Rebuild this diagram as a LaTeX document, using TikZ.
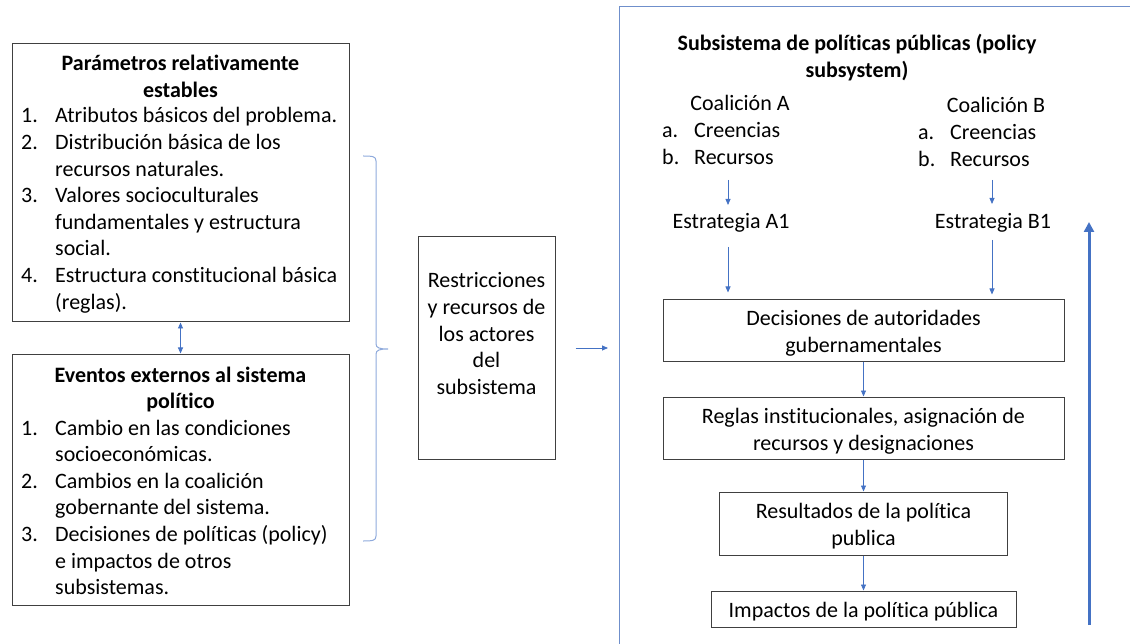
\documentclass[tikz,border=0pt]{standalone}
\usepackage{fontspec}
\setmainfont{Carlito}[Ligatures=NoCommon]
\usetikzlibrary{arrows.meta}
\definecolor{arrblue}{HTML}{4472C4}
\definecolor{braceblue}{HTML}{8FAADC}
\definecolor{framebl}{HTML}{6F8FCB}
\definecolor{boxgray}{HTML}{404040}
\newcommand\mytl[2][c]{\begin{tabular}[t]{@{}#1@{}}#2\end{tabular}}
\newcommand\mylist[2][34pt]{\begin{tabular}[t]{@{}p{#1}@{}l@{}}#2\end{tabular}}
\begin{document}
\begin{tikzpicture}[x=1pt,y=-1pt,
  every node/.style={font=\fontsize{22pt}{26.6pt}\selectfont, inner sep=0pt},
  box/.style={draw=boxgray, line width=1pt, inner sep=0pt},
  txt/.style={anchor=base},
  ltxt/.style={anchor=base west},
  bold/.style={font=\fontsize{22pt}{26.6pt}\selectfont\bfseries},
  arr/.style={draw=arrblue, line width=0.8pt, -{Triangle[length=6pt,width=5pt]}},
  darr/.style={draw=arrblue, line width=0.8pt, {Triangle[length=6pt,width=5pt]}-{Triangle[length=6pt,width=5pt]}},
  bigarr/.style={draw=arrblue, line width=3pt, -{Triangle[length=10pt,width=10pt]}},
  brace/.style={draw=braceblue, line width=1pt},
  frame/.style={draw=framebl, line width=1pt}
]
\useasboundingbox (0,0) rectangle (1130,644);

% left boxes
\node[box, minimum width=337pt, minimum height=278pt] (p1) at (180.5,183) {};
\node[txt, bold] (p1t) at (180.5,71) {\mytl{Parámetros relativamente\\estables}};
\node[ltxt] (p1l) at (21,123) {\mylist{1. & Atributos básicos del problema.\\
2. & Distribución básica de los\\
 & recursos naturales.\\
3. & Valores socioculturales\\
 & fundamentales y estructura\\
 & social.\\
4. & Estructura constitucional básica\\
 & (reglas).}};

\node[box, minimum width=337pt, minimum height=251pt] (p2) at (180.5,479.5) {};
\node[txt, bold] (p2t) at (180.5,382) {\mytl{Eventos externos al sistema\\político}};
\node[ltxt] (p2l) at (21,435) {\mylist{1. & Cambio en las condiciones\\
 & socioeconómicas.\\
2. & Cambios en la coalición\\
 & gobernante del sistema.\\
3. & Decisiones de políticas (policy)\\
 & e impactos de otros\\
 & subsistemas.}};

\draw[darr] (p1.south) -- (p2.north);

% brace
\draw[brace] (363,156) .. controls (372,156) and (376,156) .. (376,161) -- (376,344)
  .. controls (376,348) and (380,349) .. (388,349)
  .. controls (380,349) and (376,350) .. (376,354) -- (376,536)
  .. controls (376,541) and (372,541) .. (363,541);

% middle box
\node[box, minimum width=137pt, minimum height=222pt] (mid) at (486.5,348) {};
\node[txt] (midt) at (486.5,288) {\mytl{Restricciones\\y recursos de\\los actores\\del\\subsistema}};
\coordinate (midarrend) at (608,348);
\draw[arr] ([xshift=20pt]mid.east) -- (midarrend);

% right frame
\draw[frame] (619,644) -- (619,7) -- (1130,7);
\node[txt, bold] (subt) at (857,51) {\mytl{Subsistema de políticas públicas (policy\\subsystem)}};

\node[txt] (coalA) at (740,111) {Coalición A};
\node[ltxt] (coalAl) at (662,138) {\mylist[32pt]{a. & Creencias\\ b. & Recursos}};
\node[txt] (coalB) at (996,113) {Coalición B};
\node[ltxt] (coalBl) at (918,140) {\mylist[32pt]{a. & Creencias\\ b. & Recursos}};

\node[txt] (estA) at (731,229) {Estrategia A1};
\node[txt] (estB) at (993,229) {Estrategia B1};

\coordinate (a1s) at (728,180);
\coordinate (a1e) at (728,205);
\coordinate (b1s) at (992,180);
\coordinate (b1e) at (992,204);
\draw[arr] (a1s) -- (a1e);
\draw[arr] (b1s) -- (b1e);

\node[box, minimum width=401pt, minimum height=61pt] (dec) at (863.5,330.5) {};
\node[align=center] (dect) at (863.5,333.5) {Decisiones de autoridades\\gubernamentales};
\node[box, minimum width=401pt, minimum height=62pt] (reg) at (863.5,428) {};
\node[align=center] (regt) at (863.5,431) {Reglas institucionales, asignación de\\recursos y designaciones};
\node[box, minimum width=288pt, minimum height=63pt] (res) at (863.5,523.5) {};
\node[align=center] (rest) at (863.5,526) {Resultados de la política\\publica};
\node[box, minimum width=305pt, minimum height=36pt] (imp) at (863.5,609) {};
\node (impt) at (863.5,612) {Impactos de la política pública};

\coordinate (a2s) at (728,247);
\coordinate (b2s) at (992,240);
\draw[arr, shorten >=7pt] (a2s) -- (a2s |- dec.north);
\draw[arr, shorten >=5pt] (b2s) -- (b2s |- dec.north);

\draw[arr] (dec.south) -- (reg.north);
\draw[arr] (reg.south) -- (res.north);
\draw[arr] (res.south) -- (imp.north);

\coordinate (bigS) at (1089,625);
\coordinate (bigN) at (1089,222);
\draw[bigarr] (bigS) -- (bigN);
\end{tikzpicture}
\end{document}
